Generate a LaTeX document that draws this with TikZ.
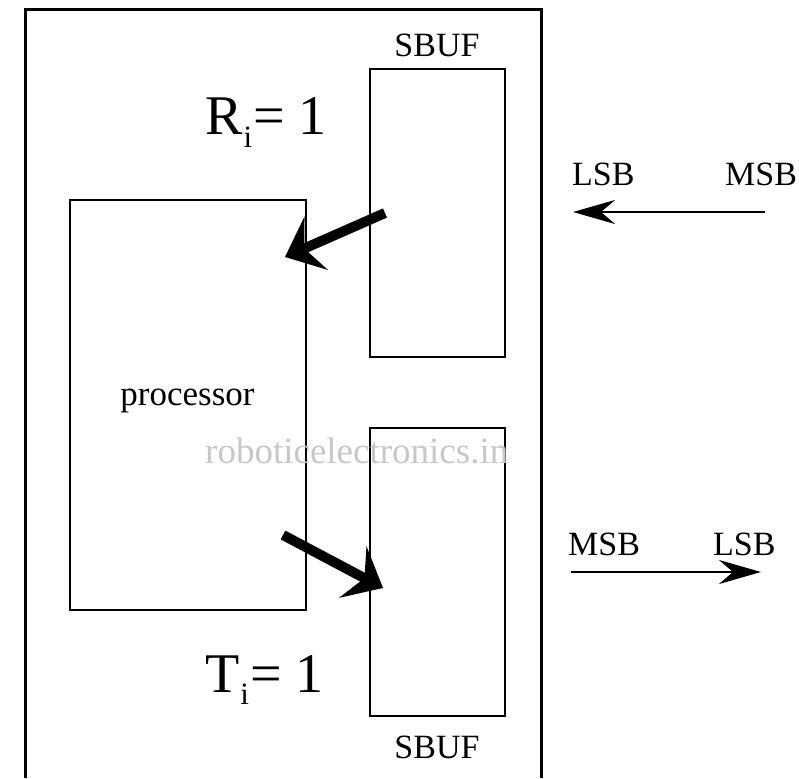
\documentclass[tikz,border=0pt]{standalone}
\usepackage{fontspec}
\setmainfont{Liberation Serif}
\usetikzlibrary{arrows.meta}
\begin{document}
\begin{tikzpicture}[x=1pt,y=-1pt,
  box/.style={draw, line width=2.5pt, anchor=north west, inner sep=0pt, outer sep=0pt},
  lbl/.style={inner sep=0pt, font=\fontsize{34}{40}\selectfont},
  big/.style={inner sep=0pt, anchor=base west, font=\fontsize{56}{60}\selectfont},
  fat/.style={line width=10pt, -{Stealth[length=34pt, width=58pt, inset=13pt]}},
  thin/.style={line width=2.8pt, -{Stealth[length=42pt, width=24pt, inset=14pt]}}]
\useasboundingbox (0,0) rectangle (799,778);
% outer frame (open at the bottom)
\draw[line width=3pt] (25,778) -- (25,10) -- (541,10) -- (541,778);
% boxes
\node[box, minimum width=236pt, minimum height=410pt] (proc) at (70,200) {};
\node[box, minimum width=135pt, minimum height=288pt] (sbufR) at (370,69) {};
\node[box, minimum width=135pt, minimum height=288pt] (sbufT) at (370,428) {};
% labels
\node[lbl, anchor=base] (lsbufR) at (437,57) {SBUF};
\node[lbl, anchor=base] (lsbufT) at (437,758) {SBUF};
\node[lbl, anchor=base, font=\fontsize{35}{40}\selectfont] (lproc) at (187.5,405) {processor};
\node[inner sep=0pt, anchor=base west, text=black!22, font=\fontsize{37}{40}\selectfont] (wm) at (205,463) {roboticelectronics.in};
\node[big] (ri) at (205,135) {R\kern1pt\raisebox{-13pt}{\fontsize{31}{34}\selectfont i}\kern1pt= 1};
\node[big] (ti) at (205,692) {T\kern1pt\raisebox{-12pt}{\fontsize{31}{34}\selectfont i}\kern1pt= 1};
\node[lbl, anchor=base west] (lsb1) at (572,185) {LSB};
\node[lbl, anchor=base west] (msb1) at (725,185) {MSB};
\node[lbl, anchor=base west] (msb2) at (568,555) {MSB};
\node[lbl, anchor=base west] (lsb2) at (713,555) {LSB};
% arrow end points
\coordinate (rtail) at (385,213);
\coordinate (rtip) at (285,257);
\coordinate (ttail) at (283,535);
\coordinate (ttip) at (383,588);
\coordinate (a1s) at (765,212);
\coordinate (a1e) at (573,212);
\coordinate (a2s) at (571,572);
\coordinate (a2e) at (761,572);
\draw[fat] (rtail) -- (rtip);
\draw[fat] (ttail) -- (ttip);
\draw[thin] (a1s) -- (a1e);
\draw[thin] (a2s) -- (a2e);
\end{tikzpicture}
\end{document}
